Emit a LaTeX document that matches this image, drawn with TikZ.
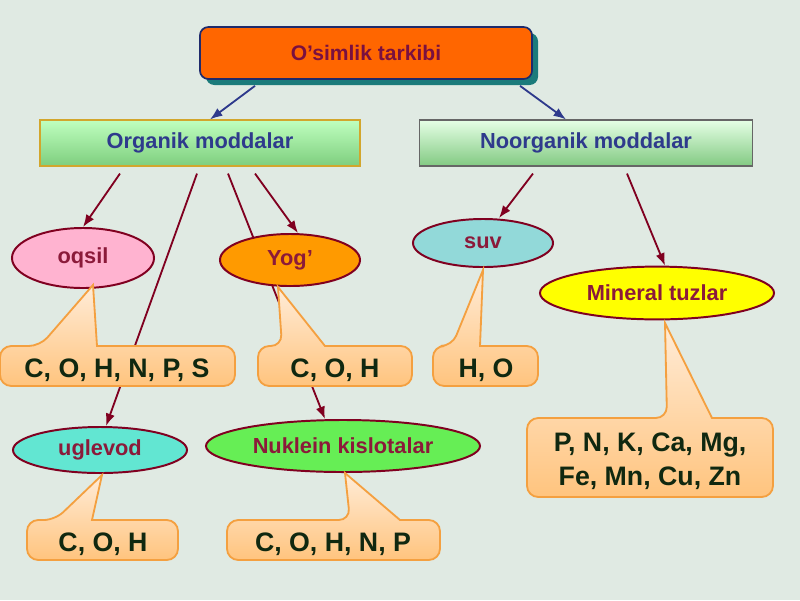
\documentclass[tikz,border=0pt]{standalone}
\usepackage{fontspec}
\setmainfont{Liberation Sans}
\usetikzlibrary{arrows.meta,shapes.geometric,shadows}
\pgfdeclarelayer{back}
\pgfdeclarelayer{lines}
\pgfsetlayers{back,lines,main}
\definecolor{paper}{HTML}{E0EAE3}
\definecolor{flame}{HTML}{FF6600}
\definecolor{navy}{HTML}{1F2A6B}
\definecolor{sea}{HTML}{1B7B7B}
\definecolor{plum}{HTML}{7A1040}
\definecolor{indigo}{HTML}{2E3A8C}
\definecolor{maroon}{HTML}{800020}
\definecolor{wine}{HTML}{8B1A3A}
\definecolor{pinky}{HTML}{FFB3D0}
\definecolor{amber}{HTML}{FF9A00}
\definecolor{aqua}{HTML}{92D9D9}
\definecolor{lemon}{HTML}{FFFF00}
\definecolor{mint}{HTML}{62E6D2}
\definecolor{lime}{HTML}{66EE55}
\definecolor{leaf}{HTML}{102810}
\definecolor{peach}{HTML}{F4A040}
\definecolor{cream}{HTML}{FFECD8}
\definecolor{apricot}{HTML}{FFC47E}

\begin{document}
\begin{tikzpicture}[x=0.025cm,y=-0.025cm,font=\bfseries,>=Latex,
  group/.style={minimum width=8cm,minimum height=1.15cm,line width=0.8pt,
    text=indigo,font=\bfseries\fontsize{15.5}{18}\selectfont},
  part/.style={ellipse,draw=maroon,line width=1.4pt,inner sep=0pt,
    text=wine,font=\bfseries\fontsize{15.5}{18}\selectfont},
  elem/.style={text=leaf,align=center,font=\bfseries\fontsize{19}{24}\selectfont},
  callout/.style={draw=peach,line width=1.3pt,top color=cream,bottom color=apricot},
  link/.style={->,maroon,line width=1.3pt},
  top link/.style={->,indigo,line width=1.3pt}]
  \useasboundingbox (0,0) rectangle (800,600);
  \begin{pgfonlayer}{back}
    \fill[paper] (0,0) rectangle (800,600);
  \end{pgfonlayer}
  % title
  \node[draw=navy,line width=1.2pt,fill=flame,rounded corners=6pt,
    minimum width=8.3cm,minimum height=1.3cm,text=plum,
    font=\bfseries\fontsize{15}{18}\selectfont,
    drop shadow={fill=sea,opacity=1,shadow xshift=0.15cm,shadow yshift=-0.15cm}]
    (title) at (366,53) {O’simlik tarkibi};
  % two groups
  \node[group,draw=brown!70!yellow,top color=green!25!white,bottom color=green!45!gray!70]
    (org) at (200,143) {Organik moddalar};
  \node[group,minimum width=8.33cm,draw=black!60,top color=white!90!green,bottom color=green!40!gray!70]
    (noorg) at (586,143) {Noorganik moddalar};
  \draw[top link] ([xshift=-2.775cm,yshift=-0.15cm]title.south) -- ([xshift=0.25cm]org.north);
  \draw[top link] ([xshift=3.85cm,yshift=-0.15cm]title.south) -- ([xshift=-0.5cm]noorg.north);
  % parts
  \node[part,fill=pinky,minimum width=3.55cm,minimum height=1.5cm] (oqsil) at (83,258) {oqsil};
  \node[part,fill=amber,minimum width=3.5cm,minimum height=1.3cm] (yog) at (290,260) {Yog’};
  \node[part,fill=aqua,minimum width=3.5cm,minimum height=1.2cm] (suv) at (483,243) {suv};
  \node[part,fill=lemon,minimum width=5.85cm,minimum height=1.32cm] (mineral) at (657,293) {Mineral tuzlar};
  \node[part,fill=mint,minimum width=4.35cm,minimum height=1.15cm] (uglevod) at (100,450) {uglevod};
  \node[part,fill=lime,minimum width=6.85cm,minimum height=1.3cm] (nuklein) at (343,446) {Nuklein kislotalar};
  \begin{pgfonlayer}{lines}
    \draw[link] ([xshift=-2cm,yshift=-0.175cm]org.south) -- (oqsil.north);
    \draw[link] ([xshift=-0.075cm,yshift=-0.175cm]org.south) -- ([xshift=0.15cm]uglevod.north);
    \draw[link] ([xshift=0.7cm,yshift=-0.175cm]org.south) -- ([xshift=-0.45cm]nuklein.north);
    \draw[link] ([xshift=1.375cm,yshift=-0.175cm]org.south) -- ([xshift=0.2cm]yog.north);
    \draw[link] ([xshift=-1.325cm,yshift=-0.175cm]noorg.south) -- ([xshift=0.4cm]suv.north);
    \draw[link] ([xshift=1.025cm,yshift=-0.175cm]noorg.south) -- ([xshift=0.2cm]mineral.north);
  \end{pgfonlayer}
  % callouts: box corners / pointer base left / tip / pointer base right
  \foreach \xa/\ya/\xb/\yb/\pl/\tx/\ty/\pr in {0/346/235/386/40/93/285/97,
      258/346/412/386/282/278/287/325, 433/346/538/386/452/483/270/480,
      527/418/773/497/667/665/323/712, 27/520/178/560/55/102/475/92,
      227/520/440/560/350/345/473/400}
    \draw[callout,rounded corners=8pt] (\xa,\ya) -- (\pl,\ya) [sharp corners] -- (\tx,\ty)
      -- (\pr,\ya) [rounded corners=8pt] -- (\xb,\ya) -- (\xb,\yb) -- (\xa,\yb) -- cycle;
  \node[elem] (oqsilel) at (117,370) {C, O, H, N, P, S};
  \node[elem] (yogel) at (335,370) {C, O, H};
  \node[elem] (suvel) at (486,370) {H, O};
  \node[elem] (mineralel) at (650,461) {P, N, K, Ca, Mg,\\Fe, Mn, Cu, Zn};
  \node[elem] (uglevodel) at (103,544) {C, O, H};
  \node[elem] (nukleinel) at (333,544) {C, O, H, N, P};
\end{tikzpicture}
\end{document}
